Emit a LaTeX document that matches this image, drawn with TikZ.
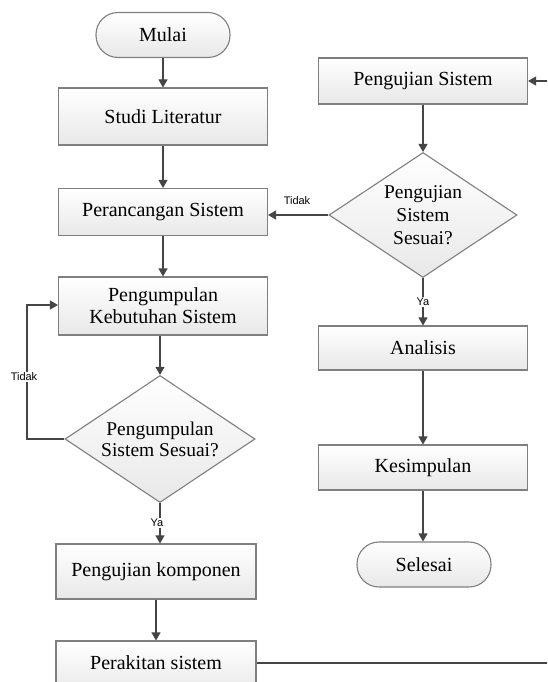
\documentclass[tikz,border=0pt]{standalone}
\usepackage{fontspec}
\setmainfont{Liberation Serif}
\newfontfamily\labelfont{Liberation Sans}
\usetikzlibrary{arrows.meta,shapes.geometric}
\definecolor{edgegray}{HTML}{7F7F7F}
\definecolor{linegray}{HTML}{454545}
\definecolor{fillbot}{HTML}{E8E8E8}
\begin{document}
\begin{tikzpicture}[x=1pt,y=-1pt,
  base/.style={draw=edgegray, line width=1.1pt, top color=white, bottom color=fillbot,
    font=\fontsize{20}{22}\selectfont, align=center, text=black},
  procbox/.style={base, rectangle, minimum width=209pt, inner sep=2pt},
  termbox/.style={base, rectangle, rounded corners=22pt, minimum width=134pt, minimum height=45pt},
  decbox/.style={base, diamond, aspect=1.5, inner sep=0pt},
  conn/.style={draw=linegray, line width=1.1pt, -{Triangle[width=9pt,length=8pt]}},
  lbl/.style={font=\labelfont\fontsize{11}{12}\selectfont, text=black, fill=white, inner sep=1pt}
]
\clip (0,0) rectangle (547,682);
\fill[white] (0,0) rectangle (547,682);

% left column
\node[termbox] (mulai) at (163,35) {Mulai};
\node[procbox, minimum height=57pt] (studi) at (163,116.5) {Studi Literatur};
\node[procbox, minimum height=47pt] (peranc) at (163,212) {Perancangan Sistem};
\node[procbox, minimum height=58pt] (pengump) at (163,306) {Pengumpulan\\Kebutuhan Sistem};
\node[decbox, minimum width=190pt, minimum height=127pt, font=\fontsize{19.5}{21}\selectfont] (d2) at (160,439) {Pengumpulan\\Sistem Sesuai?};
\node[procbox, minimum width=200pt, minimum height=55pt] (pk) at (156,571.5) {Pengujian komponen};
\node[procbox, minimum width=200pt, minimum height=55pt] (rakit) at (156,668.5) {};
\node[font=\fontsize{20}{22}\selectfont] (rakittxt) at (156,663) {Perakitan sistem};

% right column
\node[procbox, minimum height=46pt] (ps) at (423,81) {Pengujian Sistem};
\node[decbox, minimum width=188pt, minimum height=125pt, font=\fontsize{19.5}{23}\selectfont] (d1) at (423,215) {Pengujian\\Sistem\\Sesuai?};
\node[procbox, minimum height=44pt] (anal) at (423,348) {Analisis};
\node[procbox, minimum height=45pt] (kes) at (423,467.5) {Kesimpulan};
\node[termbox] (sel) at (424,564.5) {Selesai};

% connectors left
\draw[conn] (mulai.south) -- (mulai.south |- studi.north);
\draw[conn] (studi.south) -- (studi.south |- peranc.north);
\draw[conn] (peranc.south) -- (peranc.south |- pengump.north);
\draw[conn] (pengump.south -| d2.north) -- (d2.north);
\coordinate (loopA) at (27,439);
\coordinate (loopB) at (27,305);
\draw[conn] (d2.west) -- (loopA) -- (loopB) -- (loopB -| pengump.west);
\node[lbl] (tidak2) at (24,377) {Tidak};
\draw[conn] (d2.south) -- (d2.south |- pk.north);
\node[lbl] (ya2) at (157,523) {Ya};
\draw[conn] (pk.south) -- (pk.south |- rakit.north);

% feedback from Perakitan to Pengujian Sistem
\coordinate (rA) at (570,663);
\coordinate (rB) at (570,81);
\draw[conn] (rakit.east |- rakittxt.center) -- (rA) -- (rB) -- (ps.east);

% connectors right
\draw[conn] (ps.south) -- (d1.north);
\draw[conn] (d1.west) -- (d1.west -| peranc.east);
\node[lbl, fill=none] (tidak1) at (297,201) {Tidak};
\draw[conn] (d1.south) -- (anal.north);
\node[lbl] (ya1) at (423,302) {Ya};
\draw[conn] (anal.south) -- (kes.north);
\draw[conn] (kes.south) -- (kes.south |- sel.north);
\end{tikzpicture}
\end{document}
